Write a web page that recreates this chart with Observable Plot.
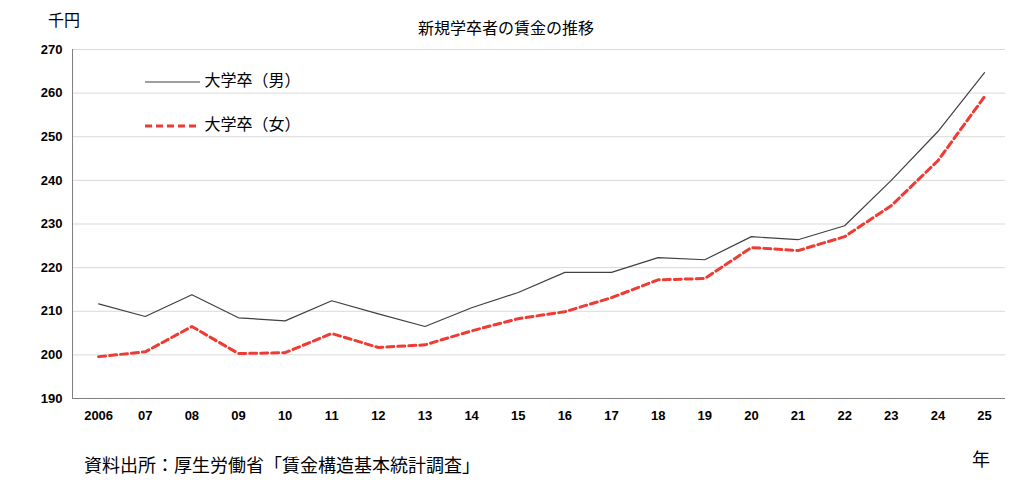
<!DOCTYPE html>
<html><head><meta charset="utf-8">
<script src="https://cdn.jsdelivr.net/npm/d3@7"></script>
<script src="https://cdn.jsdelivr.net/npm/@observablehq/plot@0.6"></script>
<style>
body{margin:0;background:#fff;font-family:"Noto Sans CJK JP",sans-serif;}
#wrap{position:relative;width:1024px;height:491px;}
.t{position:absolute;font-size:15px;color:#000;white-space:nowrap;}
</style></head><body>
<div id="wrap">
<div class="t" style="left:418px;top:15px;font-size:16px;">新規学卒者の賃金の推移</div>
<div class="t" style="left:48px;top:7px;font-size:16px;">千円</div>
<div class="t" style="left:84px;top:451px;font-size:18px;">資料出所：厚生労働省「賃金構造基本統計調査」</div>
<div class="t" style="left:972px;top:445px;font-size:18px;">年</div>
<div class="t" style="left:145px;top:67px;font-size:16px;"><svg width="56" height="14" style="vertical-align:middle"><line x1="0" y1="7" x2="55" y2="7" stroke="#404040" stroke-width="1.2"/></svg> 大学卒（男）</div>
<div class="t" style="left:145px;top:111px;font-size:16px;"><svg width="56" height="14" style="vertical-align:middle"><line x1="0" y1="7" x2="55" y2="7" stroke="#ee3b33" stroke-width="3" stroke-dasharray="7,4"/></svg> 大学卒（女）</div>
<div id="chart"></div>
</div>
<script>
const years = [2006,2007,2008,2009,2010,2011,2012,2013,2014,2015,2016,2017,2018,2019,2020,2021,2022,2023,2024,2025];
const tickLabels = ["2006","07","08","09","10","11","12","13","14","15","16","17","18","19","20","21","22","23","24","25"];
const male = [211.7,208.8,213.8,208.5,207.8,212.4,209.4,206.5,210.8,214.3,218.9,218.9,222.3,221.8,227.1,226.4,229.6,240.0,251.2,264.7];
const female = [199.6,200.7,206.5,200.3,200.5,204.9,201.7,202.3,205.5,208.3,209.9,213.1,217.2,217.5,224.6,223.9,227.1,234.2,244.5,259.2];
const yTicks = [190,200,210,220,230,240,250,260,270];
const dm = years.map((x,i)=>({x,y:male[i]}));
const df = years.map((x,i)=>({x,y:female[i]}));
const chart = Plot.plot({
  width:1024,height:491,marginTop:49,marginBottom:93,marginLeft:72,marginRight:19,
  style:{fontSize:"13px",fontFamily:"Arial, Liberation Sans, sans-serif",fontWeight:"bold",color:"#000"},
  x:{domain:[2005.44,2025.45],ticks:years,tickFormat:(d)=>tickLabels[years.indexOf(d)],tickSize:0,tickPadding:12,label:null},
  y:{domain:[190,270],ticks:yTicks,tickSize:0,tickPadding:10,label:null},
  marks:[
    Plot.gridY(yTicks,{stroke:"#d9d9d9",strokeOpacity:1}),
    Plot.ruleX([2005.44],{stroke:"#808080"}),
    Plot.ruleY([190],{stroke:"#808080"}),
    Plot.line(dm,{x:"x",y:"y",stroke:"#404040",strokeWidth:1.2}),
    Plot.line(df,{x:"x",y:"y",stroke:"#ee3b33",strokeWidth:3,strokeDasharray:"7,4"})
  ]
});
document.getElementById("chart").appendChild(chart);
</script>
</body></html>
